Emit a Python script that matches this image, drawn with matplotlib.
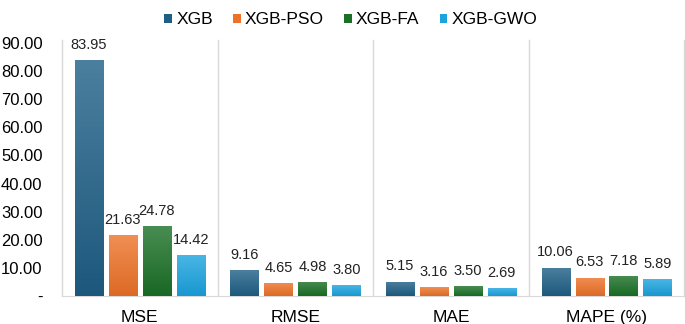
import matplotlib.pyplot as plt
import matplotlib.colors as mcolors
import numpy as np

plt.rcParams['font.family'] = ['Liberation Sans', 'DejaVu Sans']

categories = ["MSE", "RMSE", "MAE", "MAPE (%)"]
models = ["XGB", "XGB-PSO", "XGB-FA", "XGB-GWO"]
xgb = [83.95, 9.16, 5.15, 10.06]
xgb_pso = [21.63, 4.65, 3.16, 6.53]
xgb_fa = [24.78, 4.98, 3.50, 7.18]
xgb_gwo = [14.42, 3.80, 2.69, 5.89]
yticks = [0, 10, 20, 30, 40, 50, 60, 70, 80, 90]

colors = ["#1f5f86", "#ed7228", "#1b7027", "#1ba3df"]
series = [xgb, xgb_pso, xgb_fa, xgb_gwo]


def gradient_img(col):
    base = np.array(mcolors.to_rgb(col))
    light = base + (1 - base) * 0.2
    dark = base * 0.93
    t = np.linspace(0, 1, 64).reshape(-1, 1, 1)
    # bottom = slightly darker, top = lighter
    return dark * (1 - t) + light * t


fig = plt.figure(figsize=(6.85, 3.24), dpi=100, facecolor='white')
ax = fig.add_axes([0.0905, 0.0864, 0.9085, 0.781])

x = np.arange(len(categories))
step = 0.218
width = 0.18
for i, (vals, col, name) in enumerate(zip(series, colors, models)):
    pos = x + (i - 1.5) * step
    bars = ax.bar(pos, vals, width, color=col, label=name, zorder=3,
                  edgecolor='none')
    img = gradient_img(col)
    for b, v in zip(bars, vals):
        x0 = b.get_x()
        im = ax.imshow(img, extent=[x0, x0 + width, 0, v], origin='lower',
                       aspect='auto', zorder=4, interpolation='bilinear')
        im.set_clip_path(b)
        ax.annotate(f"{v:.2f}", (x0 + width / 2, v), xytext=(0, 11),
                    textcoords='offset points', ha='center', va='center',
                    fontsize=10.5, color='#222222', zorder=5)

ax.set_xlim(-0.5, len(categories) - 0.5)
ax.set_ylim(0, 90)
ax.set_yticks(yticks)
ax.set_yticklabels(["-"] + [f"{t:.2f}" for t in yticks[1:]], fontsize=12)
ax.set_xticks(x)
ax.set_xticklabels(categories, fontsize=12.5)
ax.tick_params(axis='both', length=0)
ax.tick_params(axis='x', pad=10)
ax.tick_params(axis='y', pad=14)

for sep in np.arange(len(categories) + 1) - 0.5:
    ax.plot([sep, sep], [0, 91], color='#d9d9d9', lw=1, zorder=1,
            clip_on=False)

for s in ['top', 'right', 'left']:
    ax.spines[s].set_visible(False)
ax.spines['bottom'].set_color('#d9d9d9')

handles, labels = ax.get_legend_handles_labels()
fig.legend(handles, labels, loc='upper center', bbox_to_anchor=(0.512, 1.01),
           ncol=4, frameon=False, fontsize=12.5, handlelength=0.45,
           handleheight=0.45, handletextpad=0.25, columnspacing=1.15)

fig.savefig("out.png", dpi=100, facecolor='white')
